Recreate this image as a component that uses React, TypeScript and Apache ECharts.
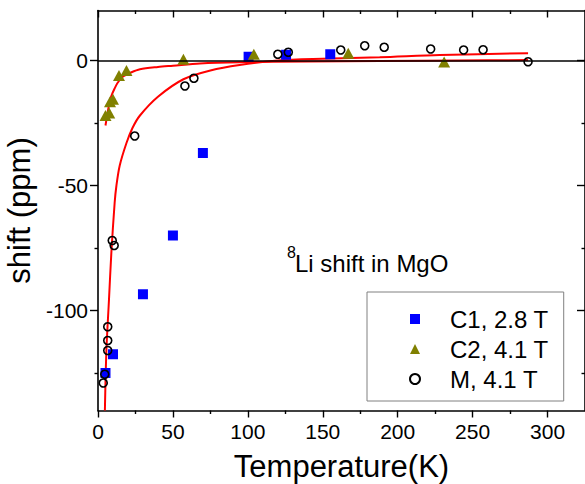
import React, { useEffect, useRef } from "react";
import * as echarts from "echarts";

// ---- data ----
const c1Data: [number, number][] = [
  [5, -125], [10, -117.5], [30, -93.5], [50, -70], [70, -37],
  [100.5, 1.5], [125.5, 2.3], [155, 2.5],
];
const c2Data: [number, number][] = [
  [5, -22], [7.5, -21], [8, -16.5], [10, -15.5], [14, -6], [19, -4],
  [57, 0.5], [104, 2.5], [167, 2.9], [231, -0.6],
];
const mData: [number, number][] = [
  [3.5, -129], [4.5, -125.5], [6.5, -106.5], [6.5, -112], [6.5, -116],
  [9.5, -72], [10.8, -74], [24.5, -30.2], [58, -10.2], [64, -7.1],
  [120, 2.5], [127, 3.3], [162, 4.2], [178, 5.9], [191, 5.3],
  [222, 4.6], [244, 4.2], [257, 4.3], [287, -0.5],
];
const fitC2: [number, number][] = [
  [5, -26], [6.5, -20.5], [8, -16], [9, -14], [11, -11.3], [13, -9],
  [16.5, -6.5], [22, -4.8], [28, -3.5], [40, -2.6], [50, -2.1], [68, -1.2],
  [94.5, -0.7], [140, -0.4], [188, -0.2], [240, 0], [287, 0.2],
];
const fitM: [number, number][] = [
  [4.6, -140], [5.6, -116], [7.3, -96], [8.9, -77], [11.1, -57], [12.3, -50],
  [14.5, -42], [19, -33], [23, -27], [28, -22], [40, -14.5], [57, -7.5],
  [75, -4], [94.5, -1.8], [120, 0], [150, 0.7], [188, 1.3], [228, 2.2], [287, 2.9],
];
const seriesNames = ["C1, 2.8 T", "C2, 4.1 T", "M, 4.1 T"];
const xMajor = [0, 50, 100, 150, 200, 250, 300];
const xMinor = [25, 75, 125, 175, 225, 275];
const yMajor = [-100, -50, 0];
const yMinor = [-125, -75, -25];
const X_MIN = 0, X_MAX = 325, Y_MIN = -140, Y_MAX = 20;

const FONT = "Liberation Sans, Arial, sans-serif";
const AX = "#000";

function xAxisDef(position: "bottom" | "top", ticks: number[], major: boolean, showLine: boolean, labels: boolean, name?: string) {
  const inside = position === "top";
  return {
    type: "value", position, min: X_MIN, max: X_MAX,
    name, nameLocation: "middle", nameGap: 40,
    nameTextStyle: { fontFamily: FONT, fontSize: 31, color: AX },
    axisLine: { show: showLine, onZero: false, lineStyle: { color: AX, width: 1.6 } },
    axisTick: { show: true, inside, length: major ? 7 : 3.5, customValues: ticks, lineStyle: { color: AX, width: 1.4 } },
    axisLabel: labels
      ? { show: true, customValues: ticks, margin: 10, fontFamily: FONT, fontSize: 21, color: AX }
      : { show: false },
    splitLine: { show: false },
    minorTick: { show: false },
  };
}
function yAxisDef(position: "left" | "right", ticks: number[], major: boolean, showLine: boolean, labels: boolean, name?: string) {
  const inside = position === "right";
  return {
    type: "value", position, min: Y_MIN, max: Y_MAX,
    name, nameLocation: "middle", nameGap: 49, nameRotate: 90,
    nameTextStyle: { fontFamily: FONT, fontSize: 31, color: AX },
    axisLine: { show: showLine, onZero: false, lineStyle: { color: AX, width: 1.6 } },
    axisTick: { show: true, inside, length: major ? 8 : 3.5, customValues: ticks, lineStyle: { color: AX, width: 1.4 } },
    axisLabel: labels
      ? { show: true, customValues: ticks, margin: 10, fontFamily: FONT, fontSize: 21, color: AX }
      : { show: false },
    splitLine: { show: false },
    minorTick: { show: false },
  };
}

export default function App() {
  const ref = useRef<HTMLDivElement>(null);
  useEffect(() => {
    const chart = echarts.init(ref.current!, null, { renderer: "svg" });
    const option: any = {
      animation: false,
      backgroundColor: "#fff",
      grid: { left: 98, top: 10.5, width: 487, height: 400, outerBoundsMode: "none", containLabel: false },
      xAxis: [
        xAxisDef("bottom", xMajor, true, true, true, "Temperature(K)"),
        xAxisDef("bottom", xMinor, false, false, false),
        xAxisDef("top", xMajor, true, true, false),
        xAxisDef("top", xMinor, false, false, false),
      ],
      yAxis: [
        yAxisDef("left", yMajor, true, true, true, "shift (ppm)"),
        yAxisDef("left", yMinor, false, false, false),
        yAxisDef("right", yMajor, true, true, false),
        yAxisDef("right", yMinor, false, false, false),
      ],
      legend: {
        data: seriesNames,
        orient: "vertical",
        left: 367,
        top: 292,
        itemWidth: 10,
        itemHeight: 10,
        itemGap: 6,
        padding: [15, 15, 10, 42],
        backgroundColor: "#fff",
        borderColor: "#808080",
        borderWidth: 1,
        borderRadius: 0,
        textStyle: { fontFamily: FONT, fontSize: 24, color: "#000", lineHeight: 24, padding: [0, 0, 0, 25] },
      },
      graphic: [
        {
          type: "text", left: 287, top: 244, z: 100,
          style: { text: "8", fontFamily: FONT, fontSize: 16, fill: "#000" },
        },
        {
          type: "text", left: 295, top: 251, z: 100,
          style: { text: "Li shift in MgO", fontFamily: FONT, fontSize: 24, fill: "#000" },
        },
      ],
      series: [
        {
          name: "fitC2", type: "line", data: fitC2, smooth: 0.3, showSymbol: false,
          lineStyle: { color: "#ff0000", width: 2 }, z: 2, silent: true,
          markLine: {
            silent: true, symbol: ["none", "none"], label: { show: false },
            lineStyle: { color: "#000", width: 1.6, type: "solid" },
            data: [{ yAxis: 0 }],
          },
        },
        {
          name: "fitM", type: "line", data: fitM, smooth: 0.3, showSymbol: false,
          lineStyle: { color: "#ff0000", width: 2 }, z: 2, silent: true,
        },
        {
          name: seriesNames[0], type: "scatter", data: c1Data, symbol: "rect", symbolSize: 10,
          itemStyle: { color: "#0000ff", opacity: 1 }, z: 3,
        },
        {
          name: seriesNames[1], type: "scatter", data: c2Data, symbol: "triangle", symbolSize: [12, 11],
          itemStyle: { color: "#808000", opacity: 1 }, z: 4,
        },
        {
          name: seriesNames[2], type: "scatter", data: mData, symbol: "circle", symbolSize: 8,
          itemStyle: { color: "rgba(255,255,255,0)", borderColor: "#000", borderWidth: 1.6, opacity: 1 }, z: 5,
        },
      ],
    };
    chart.setOption(option);
    return () => chart.dispose();
  }, []);
  return <div ref={ref} style={{ position: "absolute", left: 0, top: 0, width: 585, height: 484 }} />;
}
